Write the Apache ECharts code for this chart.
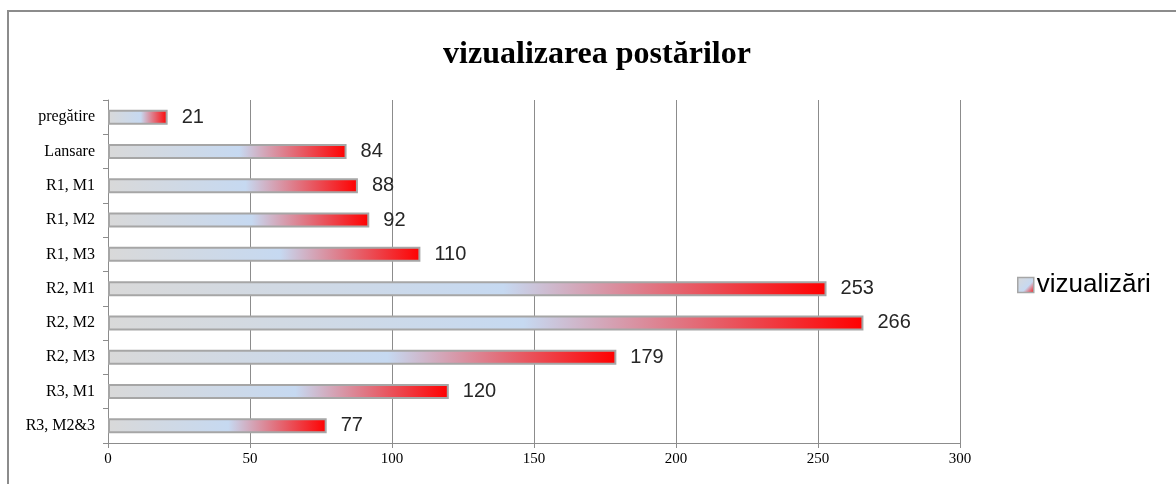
<!DOCTYPE html>
<html>
<head>
<meta charset="utf-8">
<script src="https://cdn.jsdelivr.net/npm/echarts@6/dist/echarts.min.js"></script>
<style>
  html, body { margin: 0; padding: 0; background: #fff; }
  #chart { width: 1176px; height: 484px; }
</style>
</head>
<body>
<div id="chart"></div>
<script>
// categorii (de sus in jos)
const categories = ['pregătire', 'Lansare', 'R1, M1', 'R1, M2', 'R1, M3', 'R2, M1', 'R2, M2', 'R2, M3', 'R3, M1', 'R3, M2&3']
// vizualizari
const views = [21, 84, 88, 92, 110, 253, 266, 179, 120, 77]
const xTicks = [0, 50, 100, 150, 200, 250, 300]

// gradient gri -> albastru -> rosu
const barFill = new echarts.graphic.LinearGradient(0, 0, 1, 0, [
  { offset: 0, color: '#d9d9d9' },
  { offset: 0.55, color: '#c6d9f1' },
  { offset: 1, color: '#ff0000' },
])
// iconita legendei, gradient pe diagonala
const legendFill = new echarts.graphic.LinearGradient(0, 0, 1, 1, [
  { offset: 0, color: '#d9d9d9' },
  { offset: 0.6, color: '#c6d9f1' },
  { offset: 1, color: '#ff0000' },
])

const chart = echarts.init(document.getElementById('chart'))

const option = {
  animation: false,
  title: {
    text: 'vizualizarea postărilor',
    left: 592,
    textAlign: 'center',
    top: 34,
    textStyle: {
      fontFamily: 'Liberation Serif',
      fontWeight: 'bold',
      fontSize: 32,
      color: '#000',
    },
  },
  graphic: [
    {
      type: 'polyline',
      shape: { points: [[8, 484], [8, 11], [1176, 11]] },
      style: { stroke: '#8c8c8c', lineWidth: 2, fill: null },
    },
  ],
  legend: {
    left: 1012,
    top: 267,
    itemWidth: 16,
    itemHeight: 15,
    itemGap: 4,
    data: [{
      name: 'vizualizări',
      icon: 'rect',
      itemStyle: { color: legendFill, borderColor: '#a6a6a6', borderWidth: 1.5 },
    }],
    textStyle: {
      fontFamily: 'Liberation Sans',
      fontSize: 26,
      color: '#000',
      padding: [0, 0, 0, -2],
    },
  },
  grid: { left: 108, right: 216, top: 100, bottom: 41 },
  xAxis: {
    type: 'value',
    min: 0,
    max: xTicks[xTicks.length - 1],
    interval: 50,
    axisLine: { show: true, lineStyle: { color: '#8c8c8c', width: 1 } },
    axisTick: { show: true, length: 5, lineStyle: { color: '#8c8c8c' } },
    splitLine: { show: true, lineStyle: { color: '#8c8c8c', width: 1 } },
    axisLabel: {
      fontFamily: 'Liberation Serif',
      fontSize: 15,
      color: '#000',
      margin: 9,
    },
  },
  yAxis: {
    type: 'category',
    inverse: true,
    data: categories,
    axisLine: { show: true, lineStyle: { color: '#8c8c8c', width: 1 } },
    axisTick: { show: true, length: 5, lineStyle: { color: '#8c8c8c' } },
    axisLabel: {
      fontFamily: 'Liberation Serif',
      fontSize: 16,
      color: '#000',
      margin: 13,
    },
  },
  series: [
    {
      name: 'vizualizări',
      type: 'bar',
      data: views,
      barWidth: 15,
      itemStyle: {
        color: barFill,
        borderColor: '#a6a6a6',
        borderWidth: 2,
      },
      label: {
        show: true,
        position: 'right',
        distance: 14,
        fontFamily: 'Liberation Sans',
        fontSize: 20,
        color: '#262626',
      },
    },
  ],
}

chart.setOption(option)
</script>
</body>
</html>
